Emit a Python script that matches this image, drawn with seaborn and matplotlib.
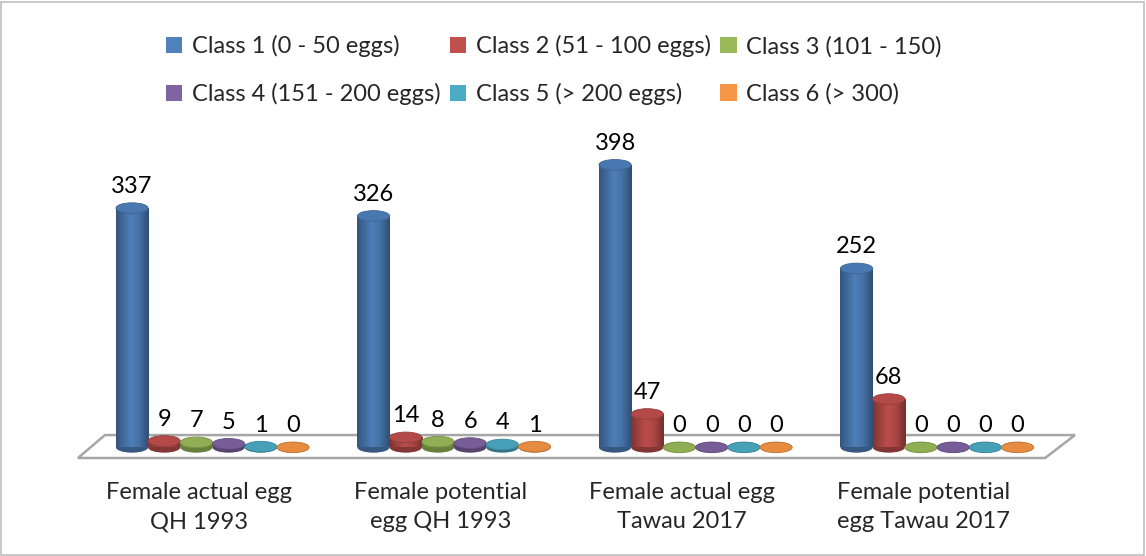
import numpy as np
import pandas as pd
import matplotlib
matplotlib.use("Agg")
import matplotlib.pyplot as plt
import matplotlib.colors as mcolors
from matplotlib.patches import Ellipse, Rectangle, Polygon, Patch
import seaborn as sns

# Data
groups = [
    "Female actual egg\nQH 1993",
    "Female potential\negg QH 1993",
    "Female actual egg\nTawau 2017",
    "Female potential\negg Tawau 2017",
]
classes = [
    "Class 1 (0 - 50 eggs)",
    "Class 2 (51 - 100 eggs)",
    "Class 3 (101 - 150)",
    "Class 4 (151 - 200 eggs)",
    "Class 5 (> 200 eggs)",
    "Class 6 (> 300)",
]
class1 = [337, 326, 398, 252]
class2 = [9, 14, 47, 68]
class3 = [7, 8, 0, 0]
class4 = [5, 6, 0, 0]
class5 = [1, 4, 0, 0]
class6 = [0, 1, 0, 0]
colors = ["#4F81BD", "#C0504D", "#9BBB59", "#8064A2", "#4BACC6", "#F79646"]

series = [class1, class2, class3, class4, class5, class6]
df = pd.DataFrame(
    [(g, c, vals[i]) for c, vals in zip(classes, series) for i, g in enumerate(groups)],
    columns=["group", "cls", "eggs"],
)

sns.set_theme(style="white")
plt.rcParams["font.family"] = ["Lato", "DejaVu Sans"]
FS = 17

fig = plt.figure(figsize=(11.46, 5.56), dpi=100)
ax = fig.add_axes([78 / 1146, 98 / 556, 997 / 1146, 323 / 556])

sns.barplot(data=df, x="group", y="eggs", hue="cls", order=groups,
            hue_order=classes, palette=colors, saturation=1, width=0.8,
            legend=False, ax=ax)

XLIM = (-0.557, 3.571)
YLIM = (-15, 440)


def shade(c, f):
    rgb = np.array(mcolors.to_rgb(c))
    if f <= 1:
        return tuple(rgb * f)
    return tuple(rgb + (1 - rgb) * (f - 1))


# Floor of the 3D plot area
floor = Polygon([(0, 0), (0.97, 0), (1, 0.071), (0.027, 0.071)], closed=True,
                transform=ax.transAxes, facecolor="white", edgecolor="#a6a6a6",
                lw=1.8, zorder=0.5, clip_on=False)
ax.add_patch(floor)

eh = 15  # ellipse height in data units
grad = np.linspace(0, 1, 128)[None, :]
for cont, col in zip(ax.containers, colors):
    cmap = mcolors.LinearSegmentedColormap.from_list(
        "cyl", [(0, shade(col, 0.66)), (0.45, shade(col, 0.98)),
                (0.7, shade(col, 0.88)), (1, shade(col, 0.6))])
    for bar in cont:
        x, w, h = bar.get_x(), bar.get_width(), bar.get_height()
        bar.set_facecolor("none")
        bar.set_edgecolor("none")
        cx = x + w / 2
        ax.add_patch(Ellipse((cx, 0), w, eh, facecolor=shade(col, 0.68),
                             edgecolor="none", zorder=2))
        if h > 0:
            im = ax.imshow(grad, extent=[x, x + w, 0, h], cmap=cmap,
                           aspect="auto", zorder=3, interpolation="bilinear")
            im.set_clip_path(bar)
        ax.add_patch(Ellipse((cx, h), w, eh, facecolor=shade(col, 0.93),
                             edgecolor=shade(col, 0.78), lw=0.6, zorder=4))
        ax.annotate(f"{h:.0f}", (cx, h), xytext=(0, 8), textcoords="offset points",
                    ha="center", va="bottom", fontsize=FS, color="black", zorder=5)

ax.set_xlim(*XLIM)
ax.set_ylim(*YLIM)
ax.set_xlabel("")
ax.set_ylabel("")
ax.set_yticks([])
ax.set_xticks(np.arange(len(groups)) - 0.055)
ax.set_xticklabels(groups, fontsize=FS, linespacing=1.5)
ax.tick_params(axis="x", length=0, pad=17)
for s in ax.spines.values():
    s.set_visible(False)
ax.patch.set_alpha(0)

handles = [Patch(facecolor=c, edgecolor="none") for c in colors]
order = [0, 3, 1, 4, 2, 5]
fig.legend([handles[i] for i in order], [classes[i] for i in order], ncol=3,
           loc="upper center", bbox_to_anchor=(0.483, 0.975), frameon=False,
           fontsize=FS, handlelength=0.7, handleheight=0.7, handletextpad=0.4,
           columnspacing=0.4, labelspacing=1.1)

fig.patches.append(Rectangle((0.001, 0.002), 0.997, 0.995, transform=fig.transFigure,
                             fill=False, edgecolor="#bfbfbf", lw=1.2))

fig.savefig("out.png", dpi=100)
